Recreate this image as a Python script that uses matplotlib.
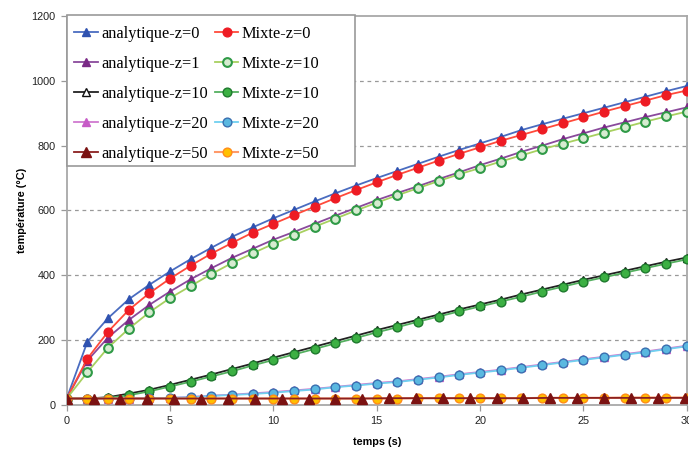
import matplotlib
matplotlib.use("Agg")
import matplotlib.pyplot as plt
from matplotlib.patches import Rectangle

t = list(range(31))

ana_z0 = [20, 195, 268, 326, 371, 412, 450, 485, 519, 548, 576, 602, 628, 653, 677, 700,
          722, 744, 766, 787, 807, 827, 848, 866, 883, 900, 917, 934, 951, 968, 984]
mix_z0 = [20, 143, 226, 293, 345, 390, 430, 467, 500, 532, 559, 586, 612, 638, 663, 687,
          710, 732, 754, 775, 795, 815, 833, 851, 869, 887, 905, 922, 939, 956, 970]
ana_z1 = [20, 137, 208, 262, 309, 350, 388, 422, 454, 482, 510, 534, 559, 584, 608, 632,
          654, 675, 697, 718, 740, 760, 781, 800, 820, 838, 856, 872, 888, 903, 918]
mix_z1 = [20, 101, 177, 235, 286, 330, 367, 404, 438, 468, 497, 524, 550, 575, 600, 624,
          647, 669, 691, 712, 731, 751, 770, 789, 806, 823, 840, 857, 874, 890, 905]
ana_z10 = [20, 20, 24, 35, 47, 62, 78, 94, 111, 128, 146, 163, 180, 197, 214, 231,
           247, 263, 279, 295, 310, 325, 341, 356, 371, 386, 400, 414, 428, 442, 455]
mix_z10 = [20, 20, 22, 30, 42, 57, 72, 88, 104, 122, 139, 156, 173, 190, 207, 224,
           240, 257, 273, 289, 304, 319, 334, 350, 365, 380, 394, 408, 422, 436, 449]
ana_z20 = [20, 20, 20, 20, 21, 22, 25, 29, 32, 36, 40, 45, 50, 56, 62, 68,
           73, 80, 87, 95, 102, 109, 117, 125, 133, 141, 149, 157, 165, 174, 183]
mix_z20 = [20, 20, 20, 20, 21, 22, 24, 28, 31, 34, 38, 43, 48, 55, 60, 66,
           71, 78, 85, 93, 100, 107, 115, 123, 131, 139, 147, 155, 163, 172, 181]
mix_z50 = [20, 20, 20, 20, 20, 20, 20, 20, 20, 20, 20, 20, 20, 20, 20, 20,
           20, 21, 21, 21, 21, 21, 21, 22, 22, 22, 22, 23, 23, 23, 23]
t_ana50 = [0, 1.3, 2.6, 3.9, 5.2, 6.5, 7.8, 9.1, 10.4, 11.7, 13.0, 14.3, 15.6, 16.9,
           18.2, 19.5, 20.8, 22.1, 23.4, 24.7, 26.0, 27.3, 28.6, 29.9]
ana_z50 = [20, 20, 20, 20, 20, 20, 20, 20, 20, 20, 20, 20, 21, 21,
           21, 21, 21, 21, 22, 22, 22, 22, 22, 22]

labels_ana = ["analytique-z=0", "analytique-z=1", "analytique-z=10", "analytique-z=20", "analytique-z=50"]
labels_mix = ["Mixte-z=0", "Mixte-z=10", "Mixte-z=10", "Mixte-z=20", "Mixte-z=50"]

W, H = 689, 451
fig = plt.figure(figsize=(W / 100, H / 100), dpi=100)
ax = fig.add_axes([66.7 / W, 46 / H, 620 / W, 389 / H])

TRI = 6.0
CIR = 6.3
h = {}
h['a0'], = ax.plot(t, ana_z0, color='#4a6cc0', lw=1.3, marker='^', ms=TRI, mfc='#2f52b0', mec='#2f52b0', label=labels_ana[0], zorder=3)
h['a1'], = ax.plot(t, ana_z1, color='#8a4a9c', lw=1.3, marker='^', ms=TRI, mfc='#7a2a86', mec='#7a2a86', label=labels_ana[1], zorder=3)
h['a10'], = ax.plot(t, ana_z10, color='#222222', lw=1.3, marker='^', ms=5.5, mfc='white', mec='#111111', mew=1.0, label=labels_ana[2], zorder=3)
h['a20'], = ax.plot(t, ana_z20, color='#d07ad0', lw=1.3, marker='^', ms=TRI, mfc='#c75cc7', mec='#c75cc7', label=labels_ana[3], zorder=3)
h['m0'], = ax.plot(t, mix_z0, color='#ff4a3a', lw=1.3, marker='o', ms=CIR, mfc='#ee1c24', mec='#ee1c24', label=labels_mix[0], zorder=4)
h['m1'], = ax.plot(t, mix_z1, color='#a8d060', lw=1.3, marker='o', ms=CIR, mfc='#d6ecd0', mec='#2f9a46', mew=1.5, label=labels_mix[1], zorder=4)
h['m10'], = ax.plot(t, mix_z10, color='#55b060', lw=1.3, marker='o', ms=CIR, mfc='#3cb043', mec='#1f7a2e', mew=1.0, label=labels_mix[2], zorder=4)
h['m20'], = ax.plot(t, mix_z20, color='#70d0f0', lw=1.3, marker='o', ms=CIR, mfc='#5ab8e0', mec='#3a6fb0', mew=1.0, label=labels_mix[3], zorder=4)
h['m50'], = ax.plot(t, mix_z50, color='#ff9a6a', lw=1.5, marker='o', ms=CIR, mfc='#ffc000', mec='#ff8c1a', mew=1.0, label=labels_mix[4], zorder=4)
h['a50'], = ax.plot(t_ana50, ana_z50, color='#8b2020', lw=1.3, marker='^', ms=TRI + 0.5, mfc='#7b1212', mec='#7b1212', label=labels_ana[4], zorder=5)

ax.set_xlim(0, 30)
ax.set_ylim(0, 1200)
ax.set_xticks([0, 5, 10, 15, 20, 25, 30])
ax.set_yticks([0, 200, 400, 600, 800, 1000, 1200])
for y in [200, 400, 600, 800, 1000]:
    ax.axhline(y, color='#999999', lw=0.9, ls=(0, (3, 3)), zorder=1)

for s in ax.spines.values():
    s.set_color('#a8a8a8')
    s.set_linewidth(1.3)
ax.tick_params(axis='both', direction='out', length=4, width=0.9, color='#999999',
               labelsize=7.8, labelcolor='#222222', pad=4)
for lab in ax.get_xticklabels() + ax.get_yticklabels():
    lab.set_fontfamily('Liberation Sans')

ax.set_xlabel('temps (s)', fontsize=7.8, fontweight='bold', family='Liberation Sans', labelpad=8)
ax.set_ylabel('température (°C)', fontsize=7.8, fontweight='bold', family='Liberation Sans', labelpad=3)


def ax_x(px):
    return (px - 66.7) / 620.0


def ax_y(py):
    return (405.0 - py) / 389.0


# legend frame (drawn separately to match the wider reference box)
x0, x1 = ax_x(67), ax_x(355)
y_top, y_bot = ax_y(15), ax_y(166)
frame = Rectangle((x0, y_bot), x1 - x0, y_top - y_bot, transform=ax.transAxes,
                  facecolor='white', edgecolor='#999999', lw=1.2, zorder=9, clip_on=False)
ax.add_patch(frame)

handles = [h['a0'], h['a1'], h['a10'], h['a20'], h['a50'], h['m0'], h['m1'], h['m10'], h['m20'], h['m50']]
leg = ax.legend(handles=handles, loc='upper left', bbox_to_anchor=(ax_x(74), ax_y(26)),
                borderaxespad=0, borderpad=0, frameon=False,
                ncol=2, prop={'family': 'Liberation Serif', 'size': 11.8},
                handlelength=1.45, handletextpad=0.2, columnspacing=0.42,
                labelspacing=0.85)
leg.set_zorder(10)

fig.savefig('out.png', dpi=100)
